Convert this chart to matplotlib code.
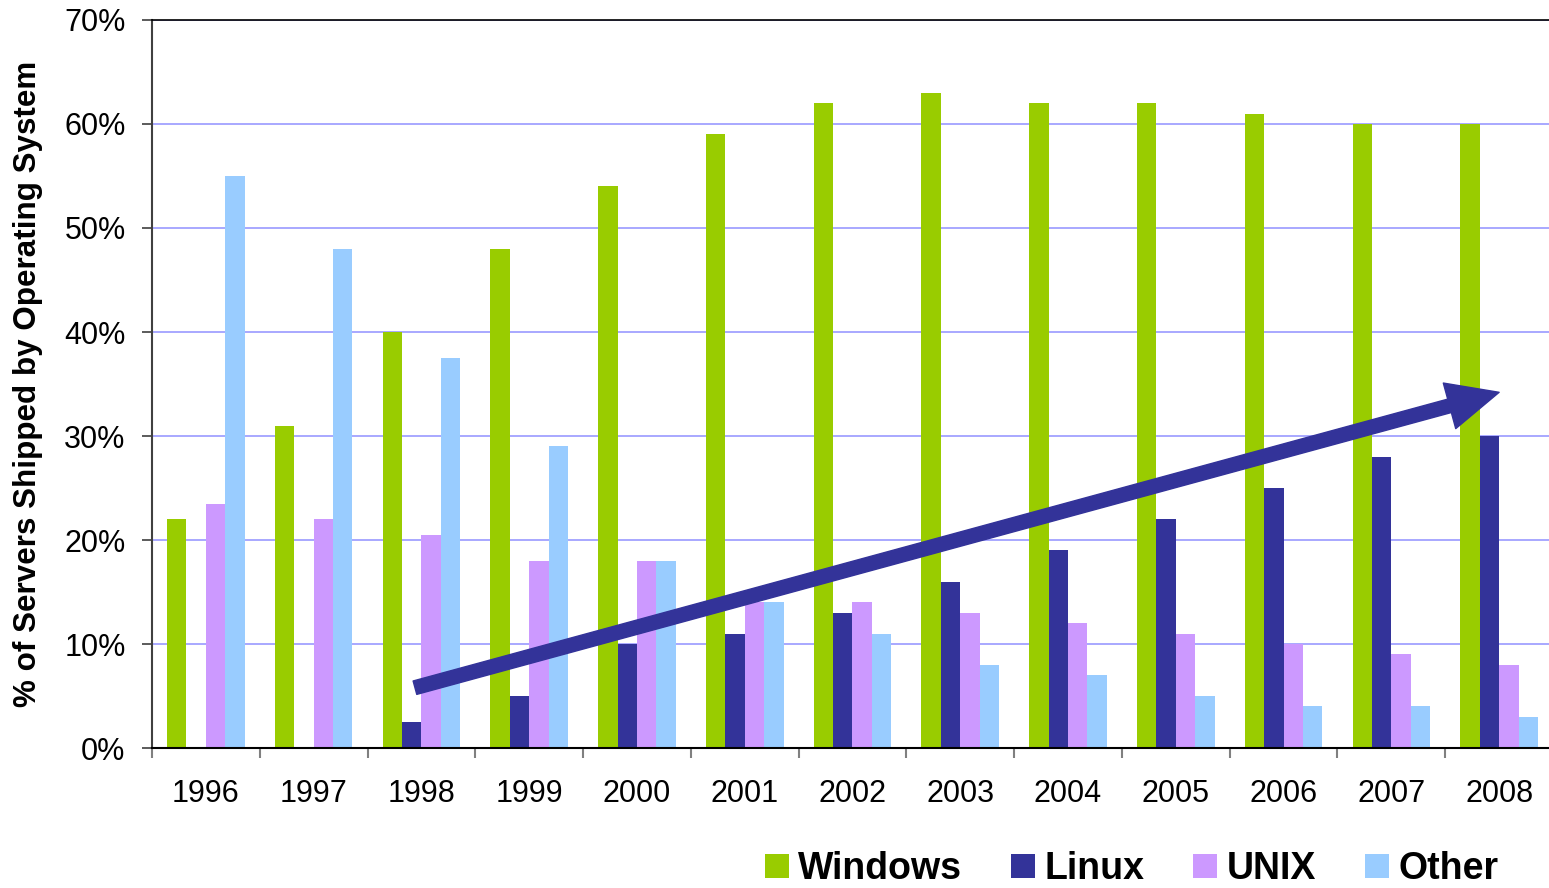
import matplotlib
matplotlib.use("Agg")
import matplotlib.pyplot as plt
import numpy as np
from matplotlib.patches import FancyArrowPatch, Patch
from matplotlib.ticker import PercentFormatter, MultipleLocator

plt.rcParams['font.family'] = ['Liberation Sans', 'DejaVu Sans']

# Datos (fracción de servidores enviados)
years = ['1996', '1997', '1998', '1999', '2000', '2001', '2002',
         '2003', '2004', '2005', '2006', '2007', '2008']
windows = [0.22, 0.31, 0.40, 0.48, 0.54, 0.59, 0.62, 0.63, 0.62, 0.62, 0.61, 0.60, 0.60]
linux = [0.0, 0.0, 0.025, 0.05, 0.10, 0.11, 0.13, 0.16, 0.19, 0.22, 0.25, 0.28, 0.30]
unix = [0.235, 0.22, 0.205, 0.18, 0.18, 0.14, 0.14, 0.13, 0.12, 0.11, 0.10, 0.09, 0.08]
other = [0.55, 0.48, 0.375, 0.29, 0.18, 0.14, 0.11, 0.08, 0.07, 0.05, 0.04, 0.04, 0.03]

series = [('Windows', windows, '#99CC00'),
          ('Linux', linux, '#333399'),
          ('UNIX', unix, '#CC99FF'),
          ('Other', other, '#99CCFF')]

# flecha de tendencia (inicio y punta, en coordenadas de datos)
arrow_start = (1.94, 0.058)
arrow_end = (12.0, 0.342)

fig = plt.figure(figsize=(15.49, 8.88), dpi=100)
ax = fig.add_axes([152 / 1549, 140 / 888, 1401 / 1549, 728 / 888])

x = np.arange(len(years))
width = 0.18
for i, (name, vals, color) in enumerate(series):
    ax.bar(x + (i - 1.5) * width, vals, width, color=color, label=name, zorder=2)

ax.set_xlim(-0.5, len(years) - 0.5)
ax.set_ylim(0, 0.7)
ax.yaxis.set_major_locator(MultipleLocator(0.1))
ax.yaxis.set_major_formatter(PercentFormatter(xmax=1, decimals=0))
ax.grid(axis='y', color='#9999FF', linewidth=1.2, zorder=0)
ax.set_axisbelow(True)

# ticks del eje x en los límites de cada grupo, etiquetas en el centro
ax.set_xticks(np.arange(-0.5, len(years) + 0.5, 1))
ax.set_xticklabels([])
ax.set_xticks(x, minor=True)
ax.set_xticklabels(years, minor=True)
ax.tick_params(axis='x', which='major', length=7, width=1.5, color='#808080', direction='out')
ax.tick_params(axis='x', which='minor', length=0, pad=22, labelsize=22)
ax.tick_params(axis='y', length=7, width=1.2, color='#404040', pad=12, labelsize=22)

ax.spines['right'].set_visible(False)
ax.spines['top'].set_color('black')
ax.spines['top'].set_linewidth(1.2)
ax.spines['left'].set_color('#404040')
ax.spines['left'].set_linewidth(1.5)
ax.spines['bottom'].set_color('black')
ax.spines['bottom'].set_linewidth(1.5)

ax.set_ylabel('% of Servers Shipped by Operating System', fontsize=22.6, fontweight='bold')
ax.yaxis.set_label_coords(-0.078, 0.5)

arrow = FancyArrowPatch(arrow_start, arrow_end,
                        arrowstyle='simple,head_length=37,head_width=34,tail_width=10',
                        mutation_scale=1, shrinkA=0, shrinkB=0,
                        color='#333399', zorder=5, transform=ax.transData)
ax.add_patch(arrow)

handles = [Patch(facecolor=c, edgecolor='none') for _, _, c in series]
labels = [n for n, _, _ in series]
fig.legend(handles, labels, loc='lower left', bbox_to_anchor=(765 / 1549, 0.001),
           ncol=4, frameon=False, prop={'size': 27, 'weight': 'bold'},
           handlelength=0.64, handleheight=0.64, handletextpad=0.25,
           columnspacing=1.3, borderpad=0, borderaxespad=0)

fig.savefig('out.png', dpi=100)
